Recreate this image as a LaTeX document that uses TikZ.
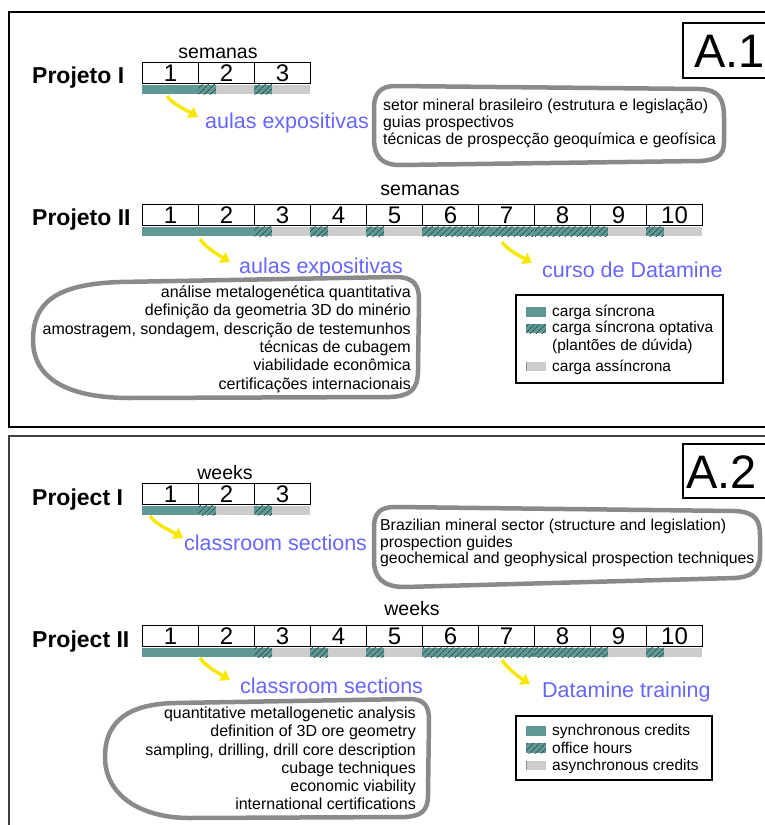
\documentclass[tikz,border=0pt]{standalone}
\usepackage{fontspec}
\setmainfont{Liberation Sans}
\usetikzlibrary{patterns.meta,arrows.meta}
\definecolor{tealc}{HTML}{609896}
\definecolor{hatchc}{HTML}{2E5654}
\definecolor{greyc}{HTML}{CCCCCC}
\definecolor{bluec}{HTML}{6666FF}
\definecolor{yelc}{HTML}{F8E800}
\definecolor{bubc}{HTML}{8A8A8A}
\newcommand\fsz[2]{\fontsize{#1}{#2}\selectfont}
\tikzset{
 cell/.style={draw, line width=1pt, minimum width=56pt, minimum height=21pt, inner sep=0pt, anchor=north west, font=\fsz{24}{26}},
 proj/.style={anchor=base west, inner sep=0pt, font=\bfseries\fsz{23}{25}},
 wk/.style={inner sep=0pt, font=\fsz{19.5}{22}},
 blu/.style={anchor=base west, inner sep=0pt, text=bluec, font=\fsz{21.5}{24}},
 yarrow/.style={draw=yelc, line width=3.4pt, -{Triangle[length=9pt,width=12pt]}},
 syncfill/.style={fill=tealc},
 asyncfill/.style={fill=greyc},
 hatchfill/.style={fill=tealc, postaction={pattern={Lines[angle=45,distance=4pt,line width=0.9pt]}, pattern color=hatchc}},
 bubble/.style={draw=bubc, line width=4.5pt, line join=round},
 legbox/.style={draw, line width=1.2pt, inner sep=0pt},
 legtxt/.style={anchor=west, inner sep=0pt, font=\fsz{15.5}{17}},
 labbox/.style={draw, line width=1.2pt},
 labtxt/.style={anchor=base west, inner sep=0pt, font=\fsz{47}{50}},
 frame/.style={line width=1.5pt},
}
\newcommand\wkrow[3]{%
 \foreach \i/\t in {#2}{
   \pgfmathsetmacro\xl{142+56*(\i-1)}
   \pgfmathsetmacro\yb{#1+22.5}
   \ifcase\t\relax
     \fill[syncfill] (\xl+0.4,\yb) rectangle (\xl+55.6,\yb+9.5);
   \or
     \fill[asyncfill] (\xl,\yb) rectangle (\xl+56,\yb+9.5);
     \fill[hatchfill] (\xl+0.4,\yb) rectangle (\xl+18,\yb+9.5);
   \or
     \fill[hatchfill] (\xl+0.4,\yb) rectangle (\xl+55.6,\yb+9.5);
   \fi
   \node[cell] (#3\i) at (\xl,#1) {\i};
 }
}
\begin{document}
\begin{tikzpicture}[x=1pt,y=-1pt]
\useasboundingbox (0,0) rectangle (764,825);
% frames
\draw[frame] (770,12) -- (9,12) -- (9,427) -- (770,427);
\draw[frame, draw=black!75] (770,436) -- (9,436) -- (9,830);
% panel labels
\draw[labbox] (770,23) -- (683,23) -- (683,78) -- (770,78);
\node[labtxt] (lab1) at (694,67) {A.1};
\draw[labbox] (770,444) -- (683,444) -- (683,498) -- (770,498);
\node[labtxt] (lab2) at (686,488) {A.2};

% ===== A.1 Projeto I
\node[proj] (p1) at (32,83) {Projeto I};
\node[wk] (w1) at (218,53) {semanas};
\wkrow{62}{1/0,2/1,3/1}{a}
\node[blu] (t1) at (205,128) {aulas expositivas};
\coordinate (s1) at (167,96);
\coordinate (e1) at (198,117);
\draw[yarrow] (s1) .. controls +(5,8) and +(-10,-6) .. (e1);
\draw[bubble] (395,86) -- (700,89) .. controls (720,90) and (724,100) .. (724,118) -- (724,142) .. controls (724,156) and (716,160) .. (700,161) -- (400,165) .. controls (381,165) and (374,156) .. (374,138) -- (374,108) .. controls (374,93) and (381,86) .. (395,86) -- cycle;
\node[anchor=west, inner sep=0pt, font=\fsz{15.8}{17}, align=left] (b1) at (383,123) {setor mineral brasileiro (estrutura e legislação)\\guias prospectivos\\técnicas de prospecção geoquímica e geofísica};

% ===== A.1 Projeto II
\node[proj] (p2) at (32,225) {Projeto II};
\node[wk] (w2) at (420,190) {semanas};
\wkrow{204}{1/0,2/0,3/1,4/1,5/1,6/2,7/2,8/2,9/1,10/1}{b}
\node[blu] (t2) at (239,273) {aulas expositivas};
\node[blu] (t3) at (542,277) {curso de Datamine};
\coordinate (s2) at (200,239);
\coordinate (e2) at (230,262);
\draw[yarrow] (s2) .. controls +(5,8) and +(-10,-6) .. (e2);
\coordinate (s3) at (502,242);
\coordinate (e3) at (532,263);
\draw[yarrow] (s3) .. controls +(5,8) and +(-10,-6) .. (e3);
\draw[bubble] (33,340) .. controls (33,300) and (60,284) .. (120,282) -- (395,277) .. controls (414,277) and (419,285) .. (419,300) -- (418,370) .. controls (418,390) and (410,396) .. (390,397) -- (130,398) .. controls (70,398) and (33,380) .. (33,340) -- cycle;
\node[anchor=east, inner sep=0pt, font=\fsz{16}{18.4}, align=right] (b2) at (411,339) {análise metalogenética quantitativa\\definição da geometria 3D do minério\\amostragem, sondagem, descrição de testemunhos\\técnicas de cubagem\\viabilidade econômica\\certificações internacionais};
% legend A.1
\node[legbox, minimum width=207pt, minimum height=88pt] (L1) at (619.5,339) {};
\fill[syncfill] (526,307) rectangle (546,317);
\fill[hatchfill] (526,324) rectangle (546,333);
\fill[asyncfill] (526,362) rectangle (546,371);
\draw[black!45, line width=0.8pt] (526.4,362) -- (526.4,371);
\node[legtxt] (l11) at (552,312) {carga síncrona};
\node[legtxt] (l12) at (552,328.5) {carga síncrona optativa};
\node[legtxt] (l13) at (552,346) {(plantões de dúvida)};
\node[legtxt] (l14) at (552,367) {carga assíncrona};

% ===== A.2 Project I
\node[proj] (p3) at (32,505) {Project I};
\node[wk] (w3) at (225,473) {weeks};
\wkrow{483}{1/0,2/1,3/1}{c}
\node[blu] (t4) at (184,550) {classroom sections};
\coordinate (s4) at (150,516);
\coordinate (e4) at (183,538);
\draw[yarrow] (s4) .. controls +(5,8) and +(-10,-6) .. (e4);
\draw[bubble] (395,507) -- (735,511) .. controls (755,512) and (760,520) .. (760,535) -- (760,555) .. controls (760,572) and (750,577) .. (735,578) -- (405,587) .. controls (382,587) and (374,577) .. (374,560) -- (374,528) .. controls (374,513) and (380,507) .. (395,507) -- cycle;
\node[anchor=west, inner sep=0pt, font=\fsz{15.8}{16.5}, align=left] (b3) at (380,543) {Brazilian mineral sector (structure and legislation)\\prospection guides\\geochemical and geophysical prospection techniques};

% ===== A.2 Project II
\node[proj] (p4) at (32,647) {Project II};
\node[wk] (w4) at (412,609) {weeks};
\wkrow{625}{1/0,2/0,3/1,4/1,5/1,6/2,7/2,8/2,9/1,10/1}{d}
\node[blu] (t5) at (240,693) {classroom sections};
\node[blu] (t6) at (542,697) {Datamine training};
\coordinate (s5) at (200,658);
\coordinate (e5) at (230,680);
\draw[yarrow] (s5) .. controls +(5,8) and +(-10,-6) .. (e5);
\coordinate (s6) at (502,660);
\coordinate (e6) at (530,684);
\draw[yarrow] (s6) .. controls +(5,8) and +(-10,-6) .. (e6);
\draw[bubble] (105,757) .. controls (105,720) and (130,704) .. (175,703) -- (410,699) .. controls (425,699) and (429,707) .. (429,720) -- (428,795) .. controls (428,812) and (420,816) .. (405,817) -- (190,818) .. controls (140,818) and (105,795) .. (105,757) -- cycle;
\node[anchor=east, inner sep=0pt, font=\fsz{16}{18.2}, align=right] (b4) at (416,758.5) {quantitative metallogenetic analysis\\definition of 3D ore geometry\\sampling, drilling, drill core description\\cubage techniques\\economic viability\\international certifications};
% legend A.2
\node[legbox, minimum width=196pt, minimum height=64pt] (L2) at (614,748) {};
\fill[syncfill] (526,726) rectangle (546,736);
\fill[hatchfill] (526,743) rectangle (546,753);
\fill[asyncfill] (526,761) rectangle (546,770);
\draw[black!45, line width=0.8pt] (526.4,761) -- (526.4,770);
\node[legtxt] (l21) at (552,731) {synchronous credits};
\node[legtxt] (l22) at (552,748) {office hours};
\node[legtxt] (l23) at (552,766) {asynchronous credits};
\end{tikzpicture}
\end{document}
